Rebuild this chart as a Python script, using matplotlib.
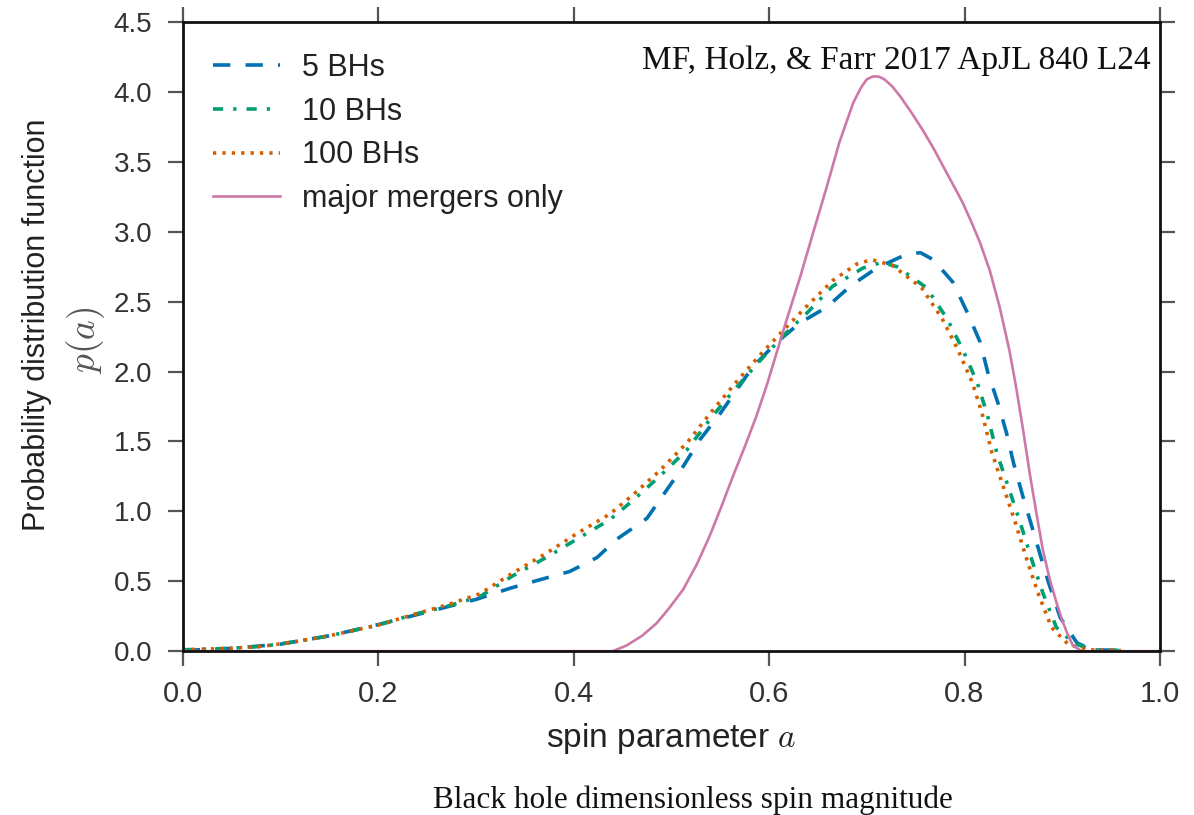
import matplotlib
matplotlib.use("Agg")
import matplotlib.pyplot as plt
import numpy as np

plt.rcParams["mathtext.fontset"] = "cm"

# ---------------- data ----------------
a_5 = [0.00, 0.05, 0.10, 0.15, 0.20, 0.25, 0.30, 0.335, 0.365, 0.396, 0.424, 0.444,
       0.475, 0.493, 0.512, 0.529, 0.55, 0.583, 0.608, 0.632, 0.659, 0.683, 0.71,
       0.741, 0.755, 0.768, 0.788, 0.803, 0.816, 0.824, 0.834, 0.843, 0.85, 0.86,
       0.869, 0.877, 0.886, 0.898, 0.915, 0.93, 0.965]
p_5 = [0.005, 0.02, 0.05, 0.11, 0.19, 0.28, 0.37, 0.45, 0.51, 0.57, 0.67, 0.80,
       0.95, 1.13, 1.32, 1.51, 1.70, 2.03, 2.21, 2.35, 2.46, 2.61, 2.74,
       2.84, 2.85, 2.80, 2.64, 2.42, 2.21, 1.99, 1.78, 1.56, 1.35, 1.10,
       0.89, 0.70, 0.49, 0.24, 0.06, 0.01, 0.005]

a_10 = [0.0, 0.048, 0.082, 0.117, 0.15, 0.202, 0.235, 0.27, 0.304, 0.338, 0.372, 0.403,
        0.437, 0.461, 0.488, 0.516, 0.542, 0.567, 0.591, 0.618, 0.639, 0.665, 0.696,
        0.715, 0.731, 0.761, 0.782, 0.798, 0.813, 0.823, 0.833, 0.846, 0.857, 0.869,
        0.880, 0.894, 0.911, 0.93, 0.96]
p_10 = [0.01, 0.02, 0.035, 0.07, 0.11, 0.19, 0.26, 0.32, 0.39, 0.54, 0.67, 0.80,
        0.94, 1.08, 1.25, 1.44, 1.68, 1.89, 2.08, 2.28, 2.42, 2.61, 2.74,
        2.78, 2.75, 2.60, 2.38, 2.16, 1.92, 1.70, 1.42, 1.15, 0.92, 0.65,
        0.42, 0.17, 0.06, 0.01, 0.005]

a_100 = [0.0, 0.048, 0.082, 0.117, 0.15, 0.202, 0.235, 0.27, 0.304, 0.338, 0.372, 0.403,
         0.437, 0.461, 0.488, 0.516, 0.542, 0.567, 0.591, 0.618, 0.639, 0.665, 0.69,
         0.705, 0.726, 0.756, 0.777, 0.793, 0.808, 0.818, 0.828, 0.841, 0.852, 0.864,
         0.875, 0.889, 0.906, 0.925, 0.96]
p_100 = [0.01, 0.02, 0.035, 0.07, 0.11, 0.19, 0.26, 0.33, 0.41, 0.56, 0.70, 0.84,
         0.98, 1.12, 1.29, 1.49, 1.72, 1.93, 2.12, 2.32, 2.47, 2.65, 2.77,
         2.80, 2.76, 2.60, 2.38, 2.16, 1.92, 1.70, 1.42, 1.15, 0.92, 0.65,
         0.42, 0.17, 0.05, 0.01, 0.005]

a_major = [0.0, 0.44, 0.454, 0.47, 0.485, 0.498, 0.512, 0.526, 0.539, 0.551, 0.563, 0.575,
           0.587, 0.598, 0.608, 0.618, 0.632, 0.645, 0.659, 0.672, 0.686, 0.694, 0.700,
           0.706, 0.712, 0.718, 0.726, 0.734, 0.745, 0.757, 0.768, 0.778, 0.788, 0.798,
           0.807, 0.816, 0.826, 0.836, 0.846, 0.853, 0.860, 0.867, 0.874, 0.880, 0.887,
           0.894, 0.900, 0.905, 0.911, 0.92, 1.0]
p_major = [0.0, 0.0, 0.04, 0.11, 0.20, 0.31, 0.44, 0.62, 0.82, 1.03, 1.25, 1.46,
           1.68, 1.91, 2.14, 2.37, 2.68, 2.99, 3.32, 3.64, 3.92, 4.03, 4.09,
           4.11, 4.11, 4.09, 4.04, 3.97, 3.86, 3.73, 3.60, 3.47, 3.34, 3.21,
           3.07, 2.92, 2.72, 2.46, 2.15, 1.88, 1.58, 1.26, 0.97, 0.73, 0.52,
           0.35, 0.22, 0.13, 0.04, 0.0, 0.0]

labels = ["5 BHs", "10 BHs", "100 BHs", "major mergers only"]
xticks = [0.0, 0.2, 0.4, 0.6, 0.8, 1.0]
yticks = [0.0, 0.5, 1.0, 1.5, 2.0, 2.5, 3.0, 3.5, 4.0, 4.5]

colors = ["#0072B2", "#009E73", "#D55E00", "#CC79A7"]

sans = "Liberation Sans"

# ---------------- figure ----------------
fig = plt.figure(figsize=(11.94, 8.15), dpi=100)
ax = fig.add_axes([0.153, 0.201, 0.8185, 0.772])

l1, = ax.plot(a_5, p_5, color=colors[0], lw=2.6, label=labels[0])
l1.set_dashes([4.8, 4.2])
l2, = ax.plot(a_10, p_10, color=colors[1], lw=2.6, label=labels[1])
l2.set_dashes([2.8, 2.8, 0.9, 2.8])
l3, = ax.plot(a_100, p_100, color=colors[2], lw=2.6, label=labels[2])
l3.set_dashes([0.9, 1.7])
l4, = ax.plot(a_major, p_major, color=colors[3], lw=1.9, label=labels[3])

ax.set_xlim(0, 1.0)
ax.set_ylim(0, 4.5)
ax.set_xticks(xticks)
ax.set_yticks(yticks)
ax.set_xticklabels([f"{v:.1f}" for v in xticks], family=sans,
                   fontsize=21, color="#333333")
ax.set_yticklabels([f"{v:.1f}" for v in yticks], family=sans,
                   fontsize=20, color="#333333")
ax.tick_params(axis="both", which="both", direction="out", length=11, width=1.6,
               top=True, right=True, color="#555555")
ax.tick_params(axis="y", pad=11)
ax.tick_params(axis="x", pad=10)
for s in ax.spines.values():
    s.set_linewidth(2.0)
    s.set_color("#111111")

ax.set_xlabel(r"spin parameter $a$", family=sans, fontsize=24,
              color="#222222", labelpad=9)

leg = ax.legend(loc="upper left", bbox_to_anchor=(0.031, 0.951), frameon=False,
                prop={"family": sans, "size": 22},
                handlelength=2.2, handletextpad=0.72, labelspacing=0.45,
                borderpad=0, borderaxespad=0)
for t in leg.get_texts():
    t.set_color("#222222")

ax.text(0.990, 0.939, "MF, Holz, & Farr 2017 ApJL 840 L24", transform=ax.transAxes,
        ha="right", va="center", family="Liberation Serif", fontsize=24,
        color="#111111")

fig.text(0.031, 0.601, "Probability distribution function", rotation=90,
         ha="center", va="center", family=sans, fontsize=22,
         color="#222222")
fig.text(0.072, 0.583, r"$p(a)$", rotation=90, ha="center", va="center",
         fontsize=27, color="#555555")

fig.text(0.58, 0.018, "Black hole dimensionless spin magnitude",
         ha="center", va="center", family="Liberation Serif", fontsize=22.5,
         color="#111111")

fig.savefig("out.png", dpi=100, facecolor="white")
